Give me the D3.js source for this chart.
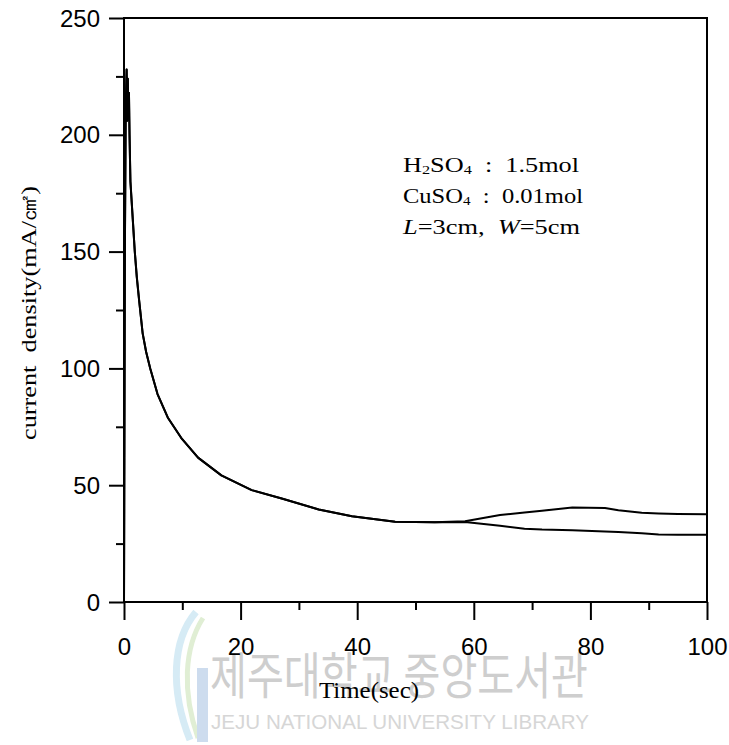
<!DOCTYPE html>
<html>
<head>
<meta charset="utf-8">
<script src="https://cdn.jsdelivr.net/npm/d3@7"></script>
<style>
  html, body { margin: 0; padding: 0; background: #fff; }
  svg { display: block; }
  .pre { white-space: pre; }
</style>
</head>
<body>
<svg id="chart" width="729" height="745"></svg>
<script>
// ---- data ----
const timeSec = [0, 0.15, 0.3, 0.45, 0.55, 0.65, 0.75, 0.85, 0.95, 1.1, 1.5, 1.85, 2.2, 2.6, 3.2, 3.8, 4.5, 5.75, 7.5, 9.8, 12.7, 16.7, 21.9, 27.2, 33.4, 39.1, 46.5, 53.3, 58.5, 64.5, 68.7, 71.7, 76.9, 82.5, 84.8, 88.8, 91.7, 95, 100];
const currentLower = [0, 150, 212, 228, 206, 224, 208, 218, 200, 180, 164, 150, 139, 129, 115, 107, 100, 89, 79, 70.3, 61.8, 54.2, 47.9, 44.2, 39.6, 36.7, 34.4, 34.1, 34.2, 32.6, 31.4, 31.0, 30.7, 30.2, 30.0, 29.4, 28.9, 28.8, 28.8];
const currentUpper = [0, 150, 212, 228, 206, 224, 208, 218, 200, 180, 164, 150, 139, 129, 115, 107, 100, 89, 79, 70.3, 61.8, 54.2, 47.9, 44.2, 39.6, 36.7, 34.4, 34.1, 34.6, 37.2, 38.3, 39.1, 40.5, 40.2, 39.3, 38.2, 37.9, 37.7, 37.6];
const xMajorTicks = [0, 20, 40, 60, 80, 100];
const xMinorTicks = [10, 30, 50, 70, 90];
const yMajorTicks = [0, 50, 100, 150, 200, 250];
const yMinorTicks = [25, 75, 125, 175, 225];
const xTitle = "Time(sec)";
const yTitle = "current  density(mA/㎠)";

// ---- layout ----
const svg = d3.select("#chart");
const L = 124, R = 707, T = 18, B = 602;
const x = d3.scaleLinear().domain([0, 100]).range([L, R]);
const y = d3.scaleLinear().domain([0, 250]).range([B, T]);

// ---- watermark (behind everything) ----
const wm = svg.append("g").attr("class", "watermark");
wm.append("path")
  .attr("d", "M196,612 C172,640 170,690 190,740")
  .attr("fill", "none").attr("stroke", "#d6ebf5").attr("stroke-width", 7);
wm.append("path")
  .attr("d", "M203,618 C184,648 182,692 198,738")
  .attr("fill", "none").attr("stroke", "#e0eed4").attr("stroke-width", 5);
wm.append("rect").attr("x", 197).attr("y", 668).attr("width", 11).attr("height", 74)
  .attr("fill", "#cddcee");
wm.append("text")
  .attr("x", 210).attr("y", 694)
  .attr("font-family", "'Noto Sans CJK KR', sans-serif")
  .attr("font-size", 50)
  .attr("fill", "#cecece")
  .attr("textLength", 378).attr("lengthAdjust", "spacingAndGlyphs")
  .text("제주대학교 중앙도서관");
wm.append("text")
  .attr("x", 211).attr("y", 729)
  .attr("font-family", "'Liberation Sans', Arial, sans-serif")
  .attr("font-size", 21)
  .attr("fill", "#d6d6d6")
  .attr("textLength", 378).attr("lengthAdjust", "spacingAndGlyphs")
  .text("JEJU NATIONAL UNIVERSITY LIBRARY");

// ---- axes ----
const tickFont = "'Liberation Sans', Arial, sans-serif";
const gx = svg.append("g").attr("transform", `translate(0,${B})`)
  .call(d3.axisBottom(x).tickValues(xMajorTicks).tickSize(18).tickSizeOuter(0).tickFormat(d3.format("d")));
gx.select(".domain").remove();
gx.selectAll(".tick line").attr("stroke", "#000").attr("stroke-width", 2);
gx.selectAll(".tick text").attr("y", 53).attr("dy", null)
  .attr("font-family", tickFont).attr("font-size", 24).attr("fill", "#000");

const gxm = svg.append("g").attr("transform", `translate(0,${B})`)
  .call(d3.axisBottom(x).tickValues(xMinorTicks).tickSize(8).tickSizeOuter(0).tickFormat(""));
gxm.select(".domain").remove();
gxm.selectAll(".tick line").attr("stroke", "#000").attr("stroke-width", 2);

const gy = svg.append("g").attr("transform", `translate(${L},0)`)
  .call(d3.axisLeft(y).tickValues(yMajorTicks).tickSize(15).tickSizeOuter(0).tickFormat(d3.format("d")));
gy.select(".domain").remove();
gy.selectAll(".tick line").attr("stroke", "#000").attr("stroke-width", 2);
gy.selectAll(".tick text").attr("x", -24).attr("dy", "0.34em")
  .attr("font-family", tickFont).attr("font-size", 24).attr("fill", "#000");

const gym = svg.append("g").attr("transform", `translate(${L},0)`)
  .call(d3.axisLeft(y).tickValues(yMinorTicks).tickSize(8).tickSizeOuter(0).tickFormat(""));
gym.select(".domain").remove();
gym.selectAll(".tick line").attr("stroke", "#000").attr("stroke-width", 2);

// frame
svg.append("rect")
  .attr("x", L).attr("y", T).attr("width", R - L).attr("height", B - T)
  .attr("fill", "none").attr("stroke", "#000").attr("stroke-width", 2);

// ---- curves ----
const line = d3.line().x((d, i) => x(timeSec[i])).y(d => y(d));
[currentLower, currentUpper].forEach(series => {
  svg.append("path")
    .datum(series)
    .attr("d", line)
    .attr("fill", "none")
    .attr("stroke", "#000")
    .attr("stroke-width", 2)
    .attr("stroke-linejoin", "round");
});

// ---- annotation ----
const serif = "'Liberation Serif', 'Times New Roman', serif";
const ann = svg.append("g").attr("font-family", serif).attr("font-size", 21).attr("fill", "#000");
const l1 = ann.append("text").attr("class", "pre").attr("x", 403).attr("y", 172)
  .attr("textLength", 176).attr("lengthAdjust", "spacingAndGlyphs");
l1.append("tspan").text("H");
l1.append("tspan").attr("font-size", 13).attr("dy", 2).text("2");
l1.append("tspan").attr("dy", -2).text("SO");
l1.append("tspan").attr("font-size", 13).attr("dy", 2).text("4");
l1.append("tspan").attr("dy", -2).text("  :  1.5mol");
const l2 = ann.append("text").attr("class", "pre").attr("x", 403).attr("y", 203)
  .attr("textLength", 180).attr("lengthAdjust", "spacingAndGlyphs");
l2.append("tspan").text("CuSO");
l2.append("tspan").attr("font-size", 13).attr("dy", 2).text("4");
l2.append("tspan").attr("dy", -2).text("  :  0.01mol");
const l3 = ann.append("text").attr("class", "pre").attr("x", 403).attr("y", 234)
  .attr("textLength", 177).attr("lengthAdjust", "spacingAndGlyphs");
l3.append("tspan").attr("font-style", "italic").text("L");
l3.append("tspan").text("=3cm,  ");
l3.append("tspan").attr("font-style", "italic").text("W");
l3.append("tspan").text("=5cm");

// ---- axis titles ----
svg.append("text")
  .attr("x", 369).attr("y", 698)
  .attr("text-anchor", "middle")
  .attr("font-family", serif).attr("font-size", 23).attr("fill", "#000")
  .attr("textLength", 100).attr("lengthAdjust", "spacingAndGlyphs")
  .text(xTitle);
svg.append("text")
  .attr("class", "pre")
  .attr("transform", "translate(36,313) rotate(-90)")
  .attr("text-anchor", "middle")
  .attr("font-family", serif).attr("font-size", 22).attr("fill", "#000")
  .attr("textLength", 254).attr("lengthAdjust", "spacingAndGlyphs")
  .text(yTitle);
</script>
</body>
</html>
